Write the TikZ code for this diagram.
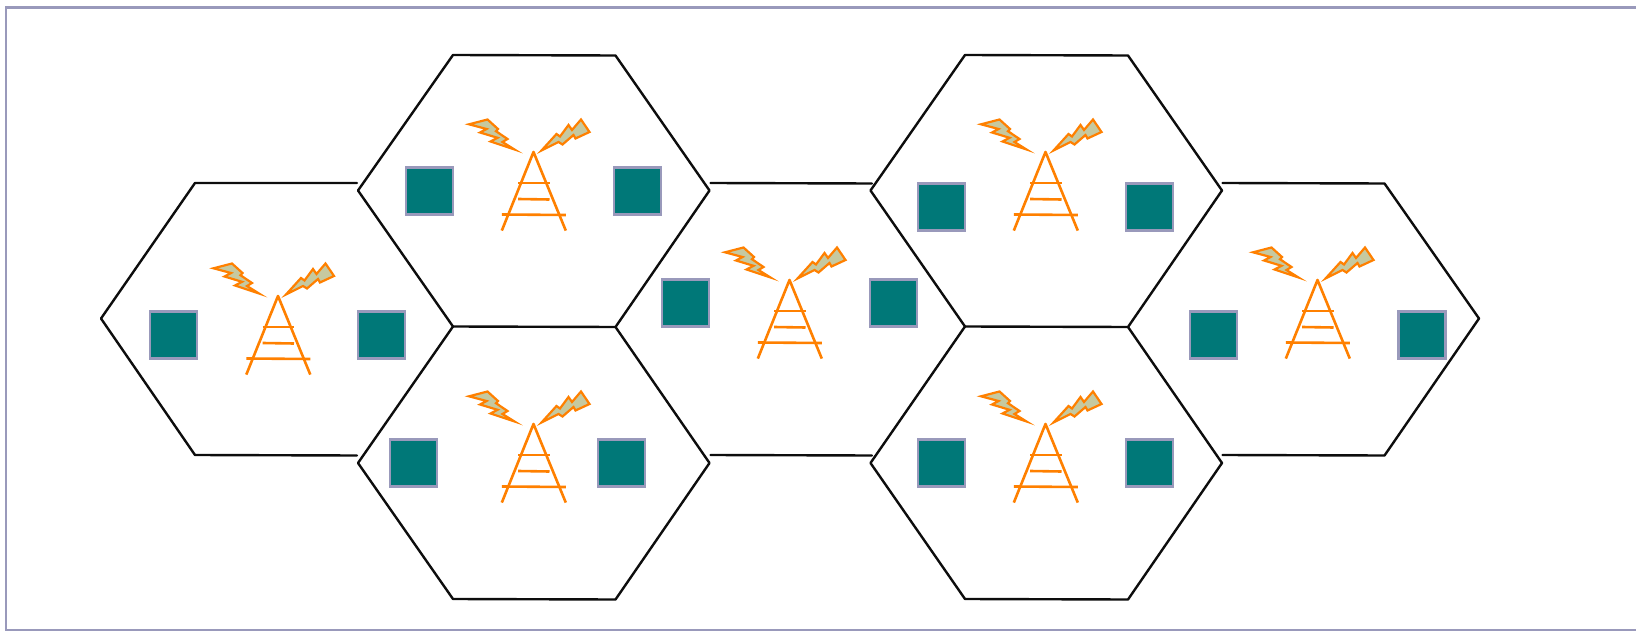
\documentclass[tikz,border=0pt]{standalone}
\definecolor{frameblue}{HTML}{9999BB}
\definecolor{tealbox}{HTML}{007878}
\definecolor{towerorange}{HTML}{FF8000}
\definecolor{boltfill}{HTML}{C6C9A0}
\tikzset{
 x=1pt,y=-1pt,
 hexline/.style={black!95,line width=2.4pt,line join=round,line cap=round},
 framelines/.style={frameblue,line width=2.2pt},
 tealsquare/.style={draw=frameblue,fill=tealbox,line width=2.8pt,minimum size=47pt,inner sep=0pt,outer sep=0pt},
 towerline/.style={towerorange,line width=2.6pt},
 bolt/.style={draw=towerorange,fill=boltfill,line width=2.2pt,line join=miter,miter limit=20},
 cell tower/.pic={
  \draw[towerline,line join=round] (-31.7,78.6)--(0,0)--(32.3,78.6);
  \draw[towerline] (-15.4,31)--(16,31);
  \draw[towerline] (-15.4,47)--(16,47.5);
  \draw[towerline] (-31.7,62.5)--(32.3,63);
  \draw[bolt] (-19,-2.5)--(-31,-10)--(-26,-13)--(-37.5,-20.8)--(-35.5,-23)--(-46,-32.5)--(-64.5,-27.7)--(-47,-23)--(-53.5,-19.5)--(-36,-14.2)--(-43,-10.5)--cycle;
  \draw[bolt] (8,-1.5)--(23,-18)--(26.5,-15.5)--(35,-27)--(38.5,-22)--(47.5,-32.5)--(56,-20)--(42,-13.5)--(40,-17)--(29,-7.5)--(25,-10)--cycle;
 }
}
\begin{document}
\begin{tikzpicture}
\useasboundingbox (0,0) rectangle (1636,631);
% frame
\draw[framelines] (6,631)--(6,7.5)--(1636,7.5);
\draw[framelines] (6,630)--(1636,630);
% hexagons
\draw[hexline] (357,183)--(195,183)--(101,318.5)--(195,455)--(357,455.5);
\draw[hexline] (358,190.5)--(453,55)--(615.5,55.5)--(709.5,190.5)--(615.5,327)--(453,326.5)--cycle;
\draw[hexline] (453,326.5)--(358,463)--(453,599)--(615.5,599.5)--(709.5,463)--(615.5,327);
\draw[hexline] (710.5,183)--(872,183.5);
\draw[hexline] (710.5,455)--(872,455.5);
\draw[hexline] (870.5,190.5)--(965,55)--(1128,55.5)--(1222,190.5)--(1128,327)--(965,326.5)--cycle;
\draw[hexline] (965,326.5)--(870.5,463)--(965,599)--(1128,599.5)--(1222,463)--(1128,327);
\draw[hexline] (1222.5,183)--(1384.5,183.5)--(1479,318.5)--(1384.5,455.5)--(1222.5,455);
% squares
\foreach \n/\px/\py in {a/173.5/335,b/381.5/335,c/429.5/191,d/637.5/191,e/413.5/463,f/621.5/463,g/685.5/303,h/893.5/303,i/941.5/207,j/1149.5/207,k/941.5/463,l/1149.5/463,m/1213.5/335,n/1422/335}
 \node[tealsquare] (sq\n) at (\px,\py) {};
% towers
\foreach \px/\py in {278/296,533.5/152,533.5/424,789.5/280,1045.5/152,1045.5/424,1317.5/280}
 \pic at (\px,\py) {cell tower};
\end{tikzpicture}
\end{document}
